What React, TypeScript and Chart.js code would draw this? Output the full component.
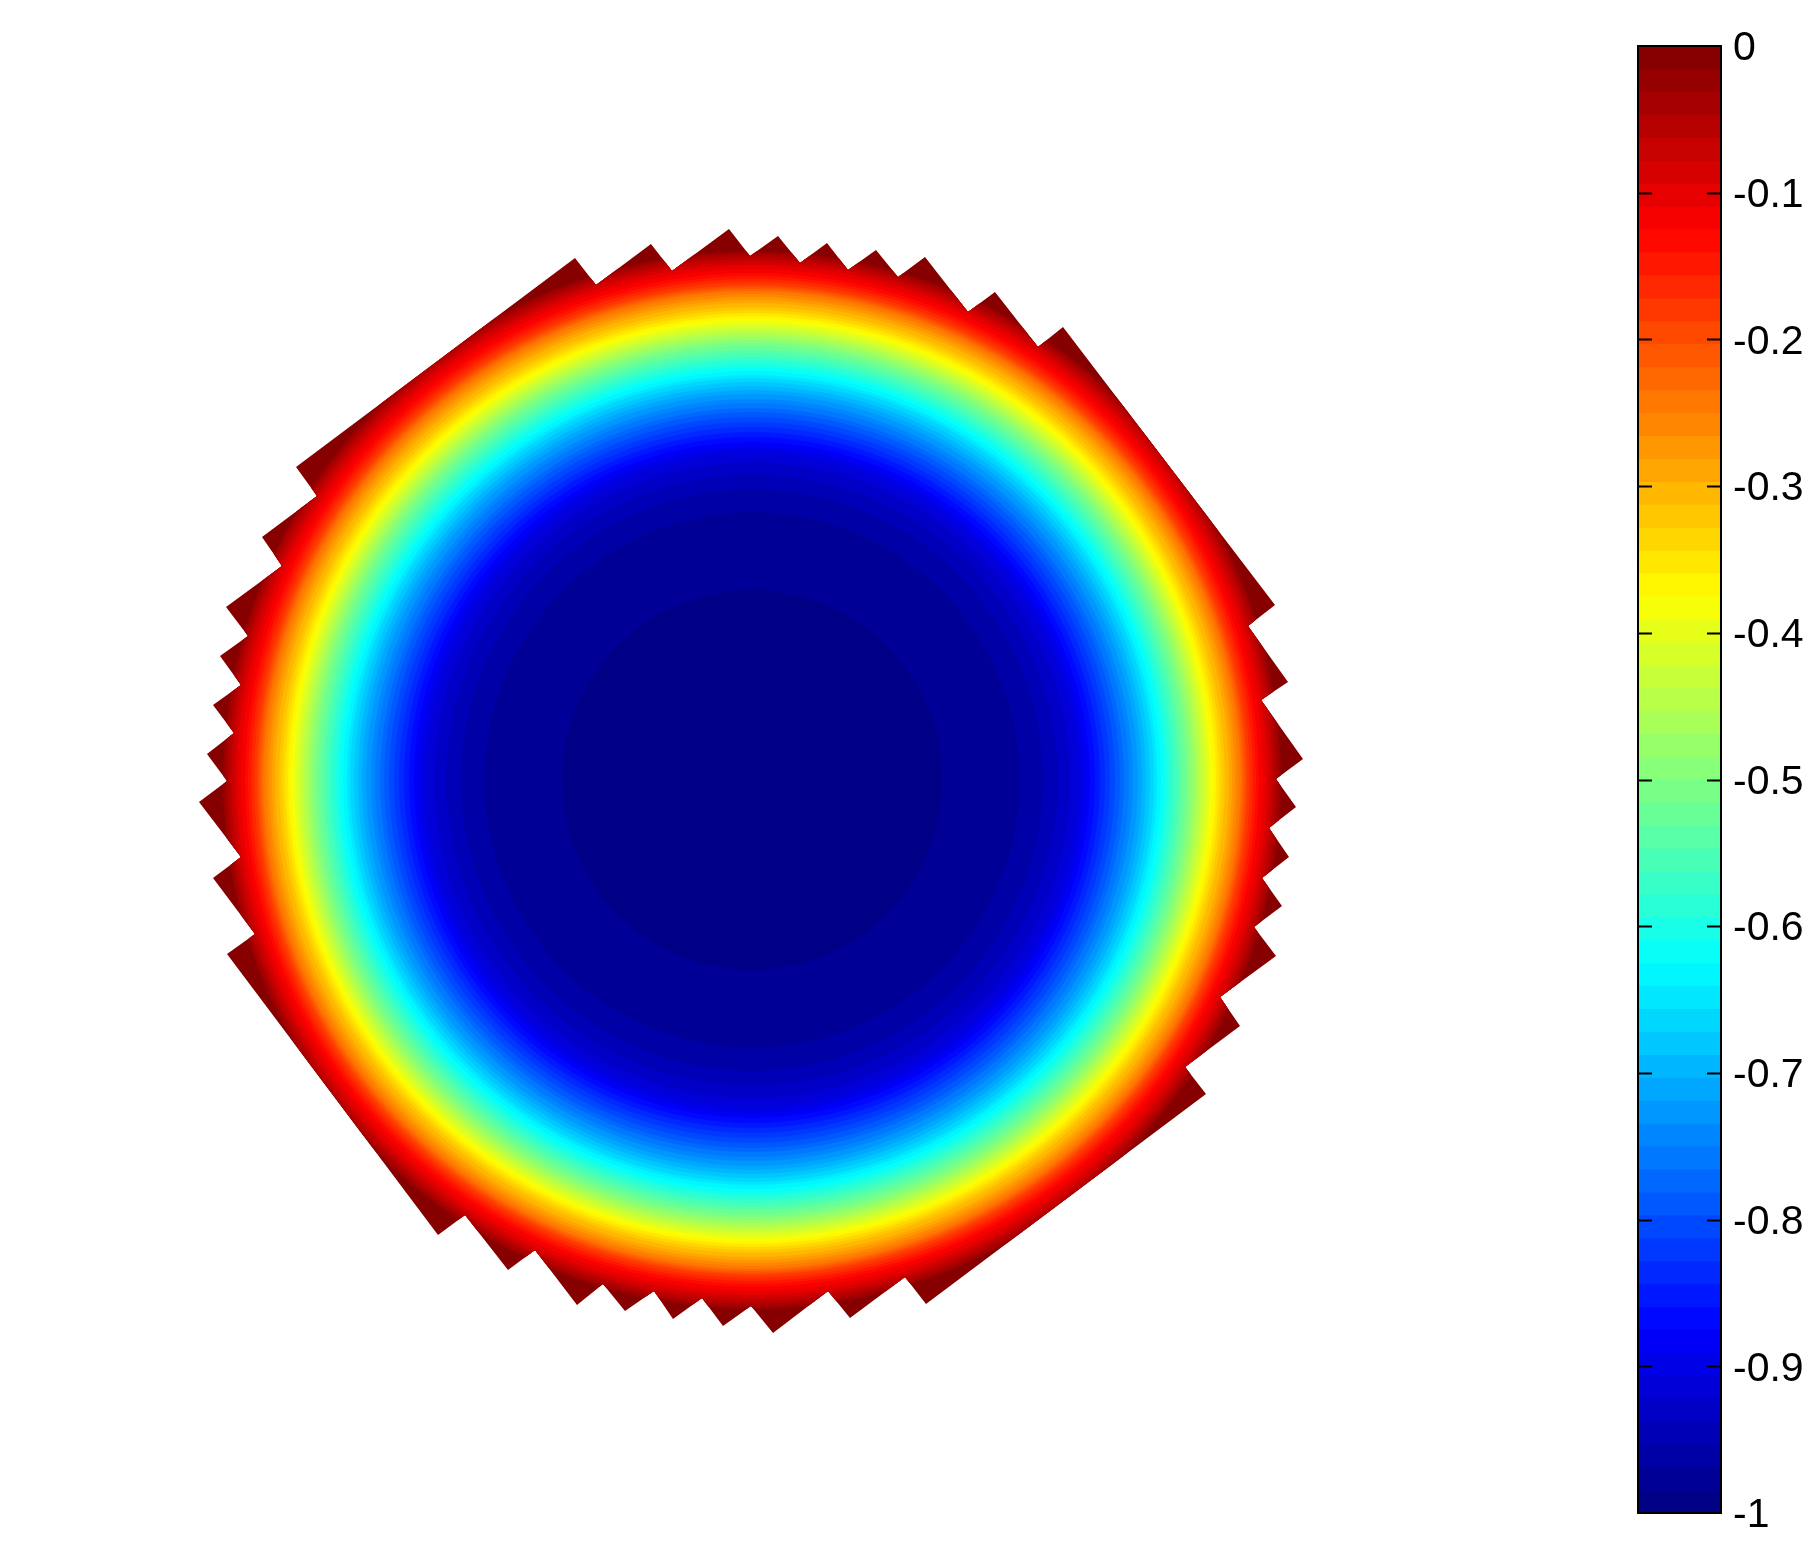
import React, { useEffect, useRef } from "react";
import { Chart, registerables } from "chart.js";

Chart.register(...registerables);

const outlineX = [575,596,651,672,729,750,778,800,827,848,876,898,925,968,995,1038,1063,1275,1248,1288,1261,1303,1276,1296,1269,1289,1262,1282,1254,1276,1220,1240,1185,1206,926,905,850,828,773,751,723,702,673,654,625,603,577,535,508,465,438,227,255,213,241,199,227,207,234,213,241,220,248,226,282,262,317,296];
const outlineY = [258,285,244,271,229,256,236,263,243,270,250,277,257,312,292,347,327,605,626,682,700,759,779,807,828,857,878,906,927,956,997,1026,1067,1094,1304,1277,1318,1291,1333,1306,1326,1298,1319,1291,1311,1284,1305,1250,1270,1215,1235,954,934,878,857,802,781,754,733,705,685,656,636,607,566,537,496,467];

const centreX = 752;
const centreY = 780;

// Contour radius of each colour level, read outwards from the well's centre.
const levelRadius = [700,529,527,524,521,518,515,511,507,504,501,498,495,493,491,489,486,483,480,477,473,470,467,464,461,458,455,452,449,446,443,440,437,434,430,427,423,420,416,413,409,405,402,398,394,390,386,381,377,372,368,363,358,353,348,343,338,333,327,318,306,291,268,190];
// Lower edge of each colour level on the colour bar.
const levelFloor = [-0.0156,-0.0313,-0.0469,-0.0625,-0.0781,-0.0938,-0.1094,-0.125,-0.1406,-0.1563,-0.1719,-0.1875,-0.2031,-0.2188,-0.2344,-0.25,-0.2656,-0.2813,-0.2969,-0.3125,-0.3281,-0.3438,-0.3594,-0.375,-0.3906,-0.4063,-0.4219,-0.4375,-0.4531,-0.4688,-0.4844,-0.5,-0.5156,-0.5313,-0.5469,-0.5625,-0.5781,-0.5938,-0.6094,-0.625,-0.6406,-0.6563,-0.6719,-0.6875,-0.7031,-0.7188,-0.7344,-0.75,-0.7656,-0.7813,-0.7969,-0.8125,-0.8281,-0.8438,-0.8594,-0.875,-0.8906,-0.9063,-0.9219,-0.9375,-0.9531,-0.9688,-0.9844,-1];

const tickValues = [0,-0.1,-0.2,-0.3,-0.4,-0.5,-0.6,-0.7,-0.8,-0.9,-1];
const tickLabels = ["0","-0.1","-0.2","-0.3","-0.4","-0.5","-0.6","-0.7","-0.8","-0.9","-1"];

function jet(v: number) {
  const t = v + 1;
  const c = (x: number) => Math.round(255 * Math.max(0, Math.min(1, x)));
  return `rgb(${c(1.5 - Math.abs(4 * t - 3))},${c(1.5 - Math.abs(4 * t - 2))},${c(1.5 - Math.abs(4 * t - 1))})`;
}
const levelColor = levelFloor.map((f) => jet(f + 0.0078));

const clipToOutline = {
  id: "clipToOutline",
  beforeDatasetsDraw(chart: any) {
    const pts = chart.getDatasetMeta(1).data;
    const ctx = chart.ctx;
    ctx.save();
    ctx.beginPath();
    pts.forEach((p: any, i: number) => (i ? ctx.lineTo(p.x, p.y) : ctx.moveTo(p.x, p.y)));
    ctx.closePath();
    ctx.clip();
  },
  afterDatasetsDraw(chart: any) {
    chart.ctx.restore();
  },
};

const barFrame = {
  id: "barFrame",
  afterDraw(chart: any) {
    const { ctx, chartArea: a, scales } = chart;
    ctx.save();
    ctx.strokeStyle = "#000";
    ctx.lineWidth = 2;
    ctx.strokeRect(a.left, a.top, a.right - a.left, a.bottom - a.top);
    ctx.beginPath();
    for (const v of tickValues.slice(1, -1)) {
      const y = Math.round(scales.y.getPixelForValue(v)) + 0.5;
      ctx.moveTo(a.left, y);
      ctx.lineTo(a.left + 14, y);
      ctx.moveTo(a.right - 14, y);
      ctx.lineTo(a.right, y);
    }
    ctx.stroke();
    ctx.restore();
  },
};

export default function App() {
  const mapRef = useRef<HTMLCanvasElement>(null);
  const barRef = useRef<HTMLCanvasElement>(null);

  useEffect(() => {
    const map = new Chart(mapRef.current!, {
      type: "bubble",
      data: {
        datasets: [
          {
            type: "bubble",
            data: levelRadius.map((r) => ({ x: centreX, y: centreY, r })),
            backgroundColor: levelColor,
            borderWidth: 0,
            clip: false,
            order: 1,
          } as any,
          {
            type: "line",
            data: outlineX.map((x, i) => ({ x, y: outlineY[i] })),
            borderColor: "transparent",
            borderWidth: 0,
            pointRadius: 0,
            showLine: false,
            fill: false,
            order: 2,
          } as any,
        ],
      },
      options: {
        animation: false,
        responsive: false,
        events: [],
        layout: { padding: 0, autoPadding: false },
        plugins: { legend: { display: false }, tooltip: { enabled: false } },
        scales: {
          x: { type: "linear", min: 0, max: 1600, display: false },
          y: { type: "linear", min: 0, max: 1550, reverse: true, display: false },
        },
      },
      plugins: [clipToOutline],
    } as any);

    const bar = new Chart(barRef.current!, {
      type: "bar",
      data: {
        labels: ["colour"],
        datasets: levelFloor.map((v, i) => ({
          data: [v],
          backgroundColor: levelColor[i],
          borderWidth: 0,
          grouped: false,
          barPercentage: 1,
          categoryPercentage: 1,
        })),
      },
      options: {
        animation: false,
        responsive: false,
        events: [],
        layout: { padding: { left: 38, top: 46, bottom: 37, right: 0 } },
        plugins: { legend: { display: false }, tooltip: { enabled: false } },
        scales: {
          x: { display: false },
          y: { display: false, min: -1, max: 0 },
          labels: {
            position: "right",
            min: -0.998,
            max: 0.002,
            grid: { display: false },
            border: { display: false },
            afterFit: (s: any) => {
              s.width = 96;
            },
            afterBuildTicks: (s: any) => {
              s.ticks = tickValues.map((value) => ({ value }));
            },
            ticks: {
              autoSkip: false,
              padding: 4,
              color: "#000",
              font: { family: "'Liberation Sans', Arial, sans-serif", size: 41 },
              callback: (_v: any, i: number) => tickLabels[i],
            },
          },
        },
      },
      plugins: [barFrame],
    } as any);

    return () => {
      map.destroy();
      bar.destroy();
    };
  }, []);

  return (
    <div style={{ position: "absolute", left: 0, top: 0, width: 1817, height: 1550, background: "#fff", overflow: "hidden" }}>
      <canvas ref={mapRef} width={1600} height={1550} style={{ position: "absolute", left: 0, top: 0 }} />
      <canvas ref={barRef} width={217} height={1550} style={{ position: "absolute", left: 1600, top: 0 }} />
    </div>
  );
}
